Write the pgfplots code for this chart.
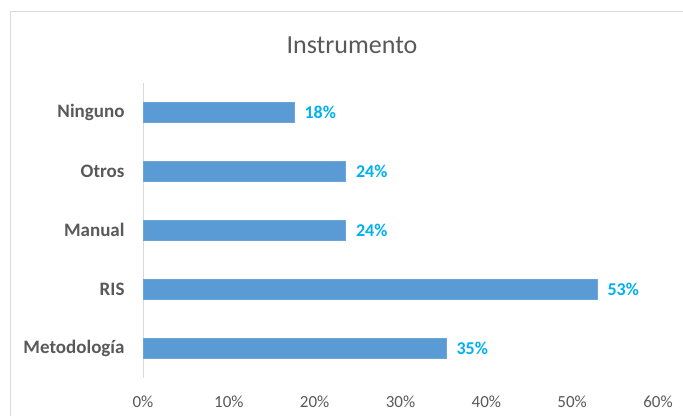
\documentclass[border=0pt]{standalone}
\usepackage{pgfplots}
\pgfplotsset{compat=1.18}
\usepackage{fontspec}
\setmainfont{Carlito}
\definecolor{barblue}{HTML}{5B9BD5}
\definecolor{lblblue}{HTML}{00B0F0}
\definecolor{txtgray}{HTML}{595959}
\definecolor{axgray}{HTML}{D9D9D9}
\begin{document}
\begin{tikzpicture}[x=1bp,y=1bp]
\useasboundingbox (0,0) rectangle (683,415);
\draw[axgray, line width=1bp] (10,-20) rectangle (700,403);
\node[text=txtgray, font=\fontsize{26bp}{30bp}\selectfont, anchor=center] at (352,370) {Instrumento};
\begin{axis}[
  at={(143bp,37.5bp)}, anchor=south west,
  scale only axis, width=515bp, height=295bp,
  xmin=0, xmax=60, ymin=-0.5, ymax=4.5,
  xtick={0,10,...,60},
  ytick={0,1,2,3,4},
  yticklabels={Metodología,RIS,Manual,Otros,Ninguno},
  xticklabel={\pgfmathprintnumber{\tick}\%},
  /pgf/number format/assume math mode=true,
  axis line style={draw=none},
  axis y line*=left,
  axis x line=none,
  hide x axis=false,
  tick style={draw=none},
  major tick length=0pt,
  xticklabel style={text=txtgray, font=\fontsize{17bp}{20bp}\selectfont, yshift=-15bp},
  yticklabel style={text=txtgray, font=\bfseries\fontsize{19bp}{22bp}\selectfont, xshift=-15bp},
  clip=false,
]
\draw[axgray, line width=1bp] (axis cs:0,-0.5) -- (axis cs:0,4.5);
\addplot[xbar, bar width=20bp, fill=barblue, draw=barblue!90!white,
  point meta=x,
  nodes near coords={\pgfmathprintnumber[fixed,precision=0]{\pgfplotspointmeta}\%},
  nodes near coords style={text=lblblue, font=\bfseries\fontsize{18bp}{21bp}\selectfont, anchor=west, xshift=7bp}]
coordinates {(35.3,0) (52.9,1) (23.6,2) (23.6,3) (17.6,4)};
\end{axis}
\end{tikzpicture}
\end{document}
